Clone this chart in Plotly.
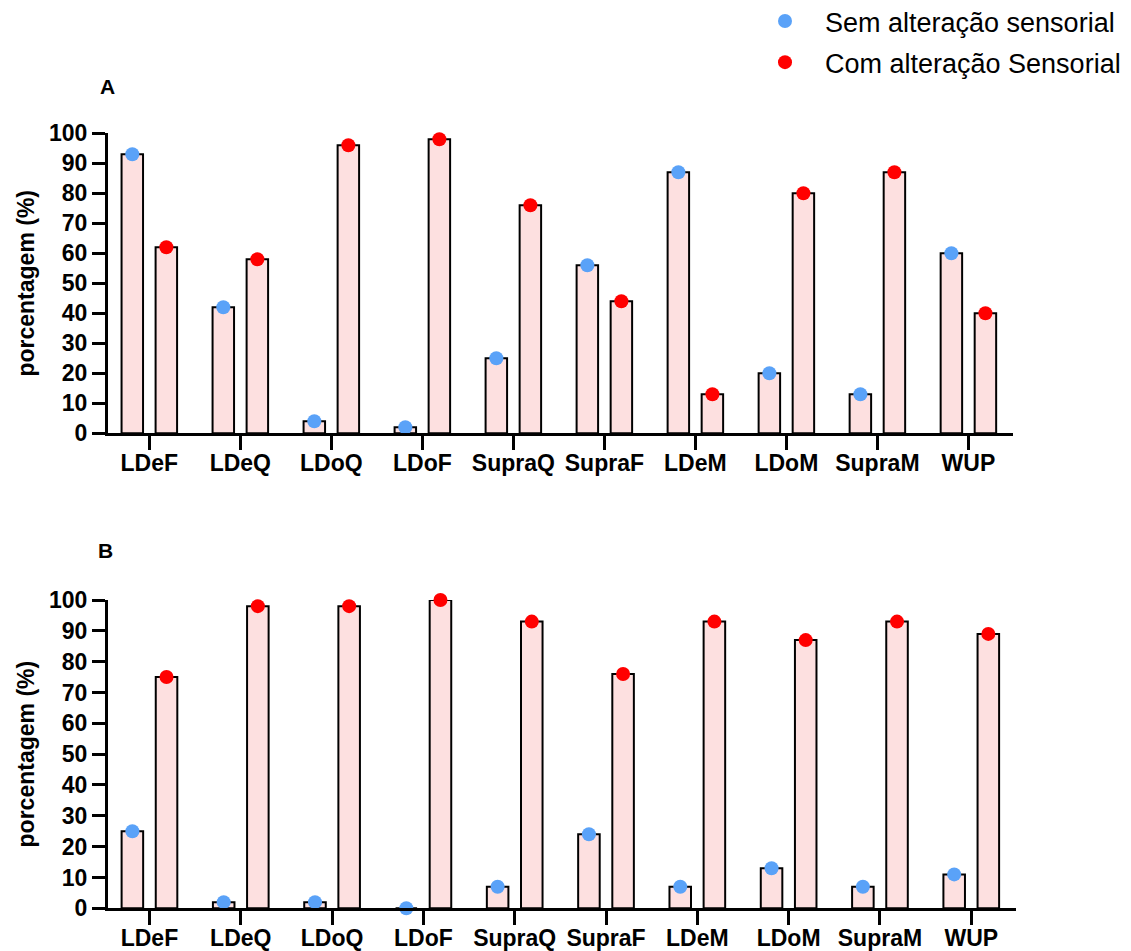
import plotly.graph_objects as go

# ---- data ----
categories = ["LDeF", "LDeQ", "LDoQ", "LDoF", "SupraQ", "SupraF", "LDeM", "LDoM", "SupraM", "WUP"]
a_sem = [93, 42, 4, 2, 25, 56, 87, 20, 13, 60]
a_com = [62, 58, 96, 98, 76, 44, 13, 80, 87, 40]
b_sem = [25, 2, 2, 0, 7, 24, 7, 13, 7, 11]
b_com = [75, 98, 98, 100, 93, 76, 93, 87, 93, 89]
y_ticks = list(range(0, 101, 10))
series_names = ["Sem alteração sensorial", "Com alteração Sensorial"]

# ---- style ----
BLUE = "#5AA2F8"
RED = "#FF0000"
PINK = "#FDE0E0"
FONT = "Liberation Sans, Arial, sans-serif"
OFF = 8                      # page body margin
FW, FH = 1131 - OFF, 951 - OFF
bar_w = 0.236
shift = 0.187
idx = list(range(len(categories)))


def px_x(p):  # page pixel -> paper x
    return (p - OFF) / FW


def px_y(p):  # page pixel (from top) -> paper y
    return 1 - (p - OFF) / FH


fig = go.Figure()


def add_panel(sem, com, xa, ya, showlegend):
    for vals, sgn, color, name in [(sem, -1, BLUE, series_names[0]), (com, 1, RED, series_names[1])]:
        xs = [i + sgn * shift for i in idx]
        fig.add_trace(go.Bar(
            x=xs, y=vals, width=bar_w, xaxis=xa, yaxis=ya,
            marker=dict(color=PINK, line=dict(color="black", width=2)),
            showlegend=False, hoverinfo="skip", cliponaxis=False))
        fig.add_trace(go.Scatter(
            x=xs, y=vals, mode="markers", xaxis=xa, yaxis=ya,
            marker=dict(color=color, size=14),
            name=name, legendgroup=name, showlegend=showlegend, cliponaxis=False))


add_panel(a_sem, a_com, "x", "y", True)
add_panel(b_sem, b_com, "x2", "y2", False)

xr = [-0.454, 9.49]
common_x = dict(
    range=xr, tickmode="array", tickvals=idx, ticktext=categories,
    showline=True, linecolor="black", linewidth=3,
    ticks="outside", ticklen=14, tickwidth=3, tickcolor="black",
    ticklabelstandoff=-7,
    showgrid=False, zeroline=False, automargin=False,
    tickfont=dict(family=FONT, size=23, color="black", weight="bold"),
)
common_y = dict(
    range=[0, 100], tickmode="array", tickvals=y_ticks,
    showline=True, linecolor="black", linewidth=3,
    ticks="outside", ticklen=13, tickwidth=3, tickcolor="black",
    showgrid=False, zeroline=False, automargin=False,
    tickfont=dict(family=FONT, size=23, color="black", weight="bold"),
    title=dict(text="porcentagem (%)", standoff=8,
               font=dict(family=FONT, size=23, color="black", weight="bold")),
)

fig.update_layout(
    width=FW, height=FH,
    margin=dict(l=0, r=0, t=0, b=0, autoexpand=False),
    paper_bgcolor="white", plot_bgcolor="white",
    barmode="overlay",
    xaxis=dict(domain=[px_x(108), px_x(1013)], anchor="y", **common_x),
    yaxis=dict(domain=[px_y(433.3), px_y(133.3)], anchor="x", **common_y),
    xaxis2=dict(domain=[px_x(108), px_x(1016)], anchor="y2", **common_x),
    yaxis2=dict(domain=[px_y(908.3), px_y(600)], anchor="x2", **common_y),
    legend=dict(x=px_x(745), y=px_y(-3), xanchor="left", yanchor="top",
                font=dict(family=FONT, size=27, color="black"),
                traceorder="grouped", tracegroupgap=3, itemwidth=70,
                bgcolor="rgba(0,0,0,0)"),
    annotations=[
        dict(text="A", x=px_x(107), y=px_y(86), xref="paper", yref="paper",
             xanchor="center", yanchor="middle",
             showarrow=False, font=dict(family=FONT, size=21, color="black", weight="bold")),
        dict(text="B", x=px_x(105), y=px_y(550), xref="paper", yref="paper",
             xanchor="center", yanchor="middle",
             showarrow=False, font=dict(family=FONT, size=21, color="black", weight="bold")),
    ],
)

fig.write_html("out.html")
